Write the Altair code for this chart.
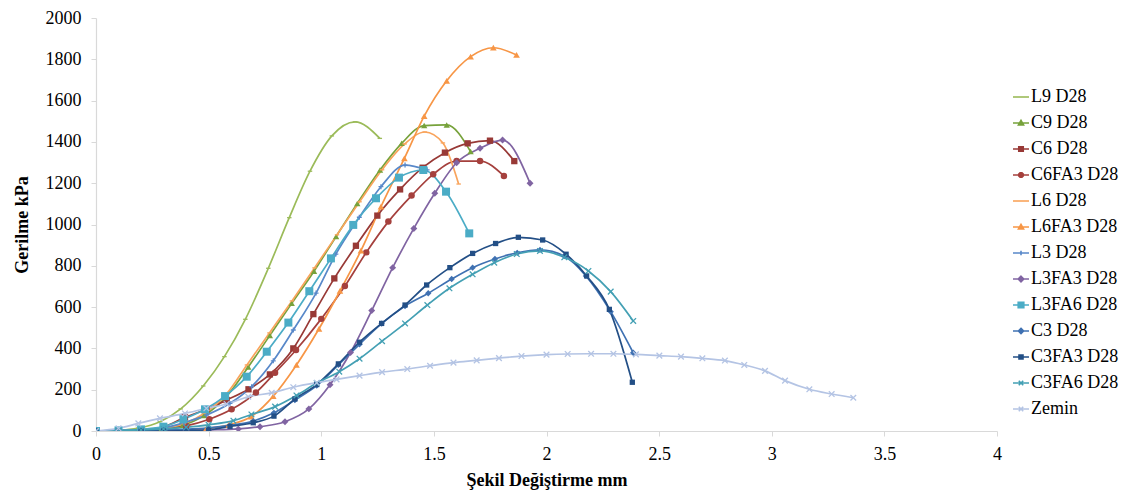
import altair as alt
import pandas as pd

SERIES = ["L9 D28", "C9 D28", "C6 D28", "C6FA3 D28", "L6 D28", "L6FA3 D28", "L3 D28",
          "L3FA3 D28", "L3FA6 D28", "C3 D28", "C3FA3 D28", "C3FA6 D28", "Zemin"]

L9_X = [0, 0.1, 0.188, 0.284, 0.376, 0.476, 0.57, 0.663, 0.765, 0.858, 0.95, 1.047, 1.15, 1.26]
L9_Y = [0, 3, 14, 45, 107, 218, 360, 541, 788, 1033, 1258, 1429, 1497, 1417]

C9_X = [0, 0.1, 0.19, 0.29, 0.385, 0.48, 0.58, 0.676, 0.772, 0.869, 0.968, 1.066, 1.16, 1.261, 1.357, 1.457, 1.557, 1.663]
C9_Y = [0, 1, 4, 10, 28, 75, 168, 310, 463, 618, 774, 942, 1102, 1264, 1393, 1479, 1482, 1353]

C6_X = [0, 0.1, 0.2, 0.3, 0.395, 0.49, 0.58, 0.677, 0.772, 0.876, 0.965, 1.058, 1.154, 1.249, 1.35, 1.45, 1.549, 1.65, 1.749, 1.857]
C6_Y = [0, 2, 5, 20, 66, 105, 150, 202, 274, 400, 566, 739, 897, 1043, 1170, 1275, 1348, 1393, 1406, 1307]

C6FA3_X = [0, 0.1, 0.2, 0.3, 0.4, 0.503, 0.602, 0.71, 0.795, 0.888, 1.0, 1.105, 1.2, 1.298, 1.401, 1.497, 1.601, 1.705, 1.811]
C6FA3_Y = [0, 0, 2, 8, 25, 57, 105, 186, 282, 392, 543, 702, 865, 1014, 1140, 1243, 1307, 1307, 1235]

L6_X = [0, 0.1, 0.2, 0.3, 0.39, 0.48, 0.58, 0.67, 0.77, 0.87, 0.97, 1.07, 1.17, 1.27, 1.37, 1.46, 1.54, 1.61]
L6_Y = [0, 2, 6, 14, 35, 85, 180, 320, 475, 630, 790, 950, 1110, 1265, 1390, 1448, 1395, 1196]

L6FA3_X = [0, 0.1, 0.2, 0.3, 0.4, 0.49, 0.59, 0.69, 0.787, 0.89, 0.99, 1.083, 1.176, 1.265, 1.369, 1.457, 1.557, 1.663, 1.764, 1.867]
L6FA3_Y = [0, 0, 0, 2, 5, 12, 30, 70, 169, 320, 495, 678, 873, 1086, 1320, 1525, 1696, 1813, 1856, 1821]

L3_X = [0, 0.1, 0.2, 0.3, 0.39, 0.49, 0.595, 0.691, 0.787, 0.876, 0.977, 1.065, 1.169, 1.265, 1.372, 1.47]
L3_Y = [0, 2, 6, 15, 40, 77, 134, 215, 340, 489, 668, 857, 1035, 1183, 1288, 1265]

L3FA3_X = [0, 0.1, 0.2, 0.3, 0.4, 0.5, 0.632, 0.728, 0.839, 0.945, 1.039, 1.13, 1.224, 1.317, 1.411, 1.504, 1.601, 1.705, 1.805, 1.927]
L3FA3_Y = [0, 0, 0, 0, 2, 5, 10, 21, 45, 107, 224, 380, 583, 791, 981, 1151, 1299, 1369, 1409, 1200]

L3FA6_X = [0, 0.1, 0.2, 0.299, 0.388, 0.484, 0.573, 0.669, 0.758, 0.854, 0.947, 1.043, 1.142, 1.243, 1.345, 1.453, 1.554, 1.657]
L3FA6_Y = [0, 3, 8, 21, 57, 105, 169, 263, 384, 525, 677, 836, 998, 1127, 1227, 1264, 1159, 957]

C3_X = [0, 0.1, 0.2, 0.3, 0.4, 0.5, 0.595, 0.698, 0.79, 0.883, 0.98, 1.076, 1.17, 1.268, 1.372, 1.475, 1.579, 1.672, 1.771, 1.87, 1.971, 2.079, 2.175, 2.285, 2.385]
C3_Y = [0, 0, 2, 5, 8, 15, 27, 48, 88, 150, 220, 320, 420, 520, 605, 667, 736, 791, 833, 863, 877, 847, 751, 578, 379]

C3FA3_X = [0, 0.1, 0.2, 0.3, 0.4, 0.5, 0.595, 0.698, 0.79, 0.883, 0.98, 1.076, 1.17, 1.268, 1.372, 1.468, 1.571, 1.672, 1.774, 1.875, 1.983, 2.087, 2.178, 2.279, 2.381]
C3FA3_Y = [0, 0, 0, 0, 2, 6, 22, 40, 72, 155, 225, 325, 430, 521, 610, 707, 791, 860, 908, 938, 925, 856, 751, 589, 236]

C3FA6_X = [0, 0.1, 0.2, 0.3, 0.4, 0.5, 0.61, 0.69, 0.795, 0.89, 0.98, 1.08, 1.17, 1.27, 1.372, 1.471, 1.569, 1.672, 1.768, 1.868, 1.971, 2.079, 2.186, 2.285, 2.385]
C3FA6_Y = [0, 2, 5, 10, 18, 30, 50, 80, 118, 172, 232, 287, 350, 435, 521, 610, 691, 759, 815, 857, 872, 841, 775, 675, 533]

ZEMIN_X = [0, 0.1, 0.188, 0.284, 0.395, 0.49, 0.58, 0.676, 0.78, 0.876, 0.98, 1.068, 1.17, 1.27, 1.382, 1.483,
           1.587, 1.69, 1.789, 1.889, 2.0, 2.094, 2.198, 2.297, 2.397, 2.501, 2.597, 2.692, 2.792, 2.878,
           2.97, 3.059, 3.167, 3.266, 3.362]
ZEMIN_Y = [0, 13, 37, 61, 85, 110, 131, 166, 185, 212, 234, 250, 268, 285, 300, 316,
           331, 342, 353, 363, 370, 373, 374, 374, 371, 365, 360, 352, 341, 320,
           291, 244, 202, 179, 161]

X_TICKS = [0, 0.5, 1, 1.5, 2, 2.5, 3, 3.5, 4]
Y_TICKS = [0, 200, 400, 600, 800, 1000, 1200, 1400, 1600, 1800, 2000]

XS = [L9_X, C9_X, C6_X, C6FA3_X, L6_X, L6FA3_X, L3_X, L3FA3_X, L3FA6_X, C3_X, C3FA3_X, C3FA6_X, ZEMIN_X]
YS = [L9_Y, C9_Y, C6_Y, C6FA3_Y, L6_Y, L6FA3_Y, L3_Y, L3FA3_Y, L3FA6_Y, C3_Y, C3FA3_Y, C3FA6_Y, ZEMIN_Y]

COLORS = ["#9BBB59", "#77A23B", "#983936", "#A5403D", "#F9A45C", "#F79646", "#5888C9",
          "#8064A2", "#4BACC6", "#3F71B2", "#234F86", "#44A0B4", "#B4C4E4"]

# marker styles: (shape, size, filled)
X_PATH = "M-1,-1L1,1M-1,1L1,-1"
PLUS_PATH = "M-1,0H1M0,-1V1"
MARKERS = [("stroke", 20, False), ("triangle-up", 40, True), ("square", 40, True), ("circle", 42, True),
           ("stroke", 20, False), ("triangle-up", 44, True), (PLUS_PATH, 24, False), ("diamond", 48, True),
           ("square", 64, True), ("diamond", 40, True), ("square", 28, True), (X_PATH, 32, False),
           (X_PATH, 32, False)]

LEG_LINE = "M-1,0L1,0"
TRI = "M0,-0.32L0.32,0.25L-0.32,0.25Z"
LEGEND_PATHS = [
    LEG_LINE,
    LEG_LINE + TRI,
    LEG_LINE + "M-0.28,-0.28L0.28,-0.28L0.28,0.28L-0.28,0.28Z",
    LEG_LINE + "M-0.12,-0.28L0.12,-0.28L0.28,-0.12L0.28,0.12L0.12,0.28L-0.12,0.28L-0.28,0.12L-0.28,-0.12Z",
    LEG_LINE,
    LEG_LINE + TRI,
    LEG_LINE + "M0,-0.28L0,0.28",
    LEG_LINE + "M0,-0.35L0.35,0L0,0.35L-0.35,0Z",
    LEG_LINE + "M-0.35,-0.35L0.35,-0.35L0.35,0.35L-0.35,0.35Z",
    LEG_LINE + "M0,-0.32L0.32,0L0,0.32L-0.32,0Z",
    LEG_LINE + "M-0.25,-0.25L0.25,-0.25L0.25,0.25L-0.25,0.25Z",
    LEG_LINE + "M-0.28,-0.28L0.28,0.28M-0.28,0.28L0.28,-0.28",
    LEG_LINE + "M-0.28,-0.28L0.28,0.28M-0.28,0.28L0.28,-0.28",
]

rows = []
for name, xs, ys in zip(SERIES, XS, YS):
    for x, y in zip(xs, ys):
        rows.append({"series": name, "x": x, "y": y})
df = pd.DataFrame(rows)

FONT = "Liberation Serif"
# plot colour scale uses the reversed domain so its (disabled) legend is not merged with the real one
plot_color = alt.Scale(domain=SERIES[::-1], range=COLORS[::-1])

x_enc = alt.X("x:Q", scale=alt.Scale(domain=[0, 4], nice=False),
              axis=alt.Axis(title="Şekil Değiştirme mm", values=X_TICKS, format="~g", grid=False,
                            labelFlush=False, labelOverlap=False, tickSize=5, labelPadding=9,
                            titlePadding=8))
y_enc = alt.Y("y:Q", scale=alt.Scale(domain=[0, 2000], nice=False),
              axis=alt.Axis(title="Gerilme kPa", values=Y_TICKS, format="d", grid=False,
                            tickSize=5, labelPadding=10, titlePadding=14))

base = alt.Chart(df).encode(x=x_enc, y=y_enc)

layers = [
    base.mark_line(interpolate="monotone", strokeWidth=1.7, clip=True).encode(
        color=alt.Color("series:N", scale=plot_color, legend=None),
        detail="series:N",
    ),
    # legend-only layer: no rows pass the filter, only the legend is produced
    base.transform_filter(alt.datum.x < 0).mark_point(filled=True, strokeWidth=1.6, opacity=1, clip=True).encode(
        fill=alt.Fill("series:N", scale=alt.Scale(domain=SERIES, range=COLORS)),
        stroke=alt.Stroke("series:N", scale=alt.Scale(domain=SERIES, range=COLORS)),
        shape=alt.Shape("series:N", scale=alt.Scale(domain=SERIES, range=LEGEND_PATHS)),
    ),
]
for name, (shape, size, filled) in zip(SERIES, MARKERS):
    mk = dict(shape=shape, size=size, filled=filled, opacity=1, clip=True)
    if not filled:
        mk["strokeWidth"] = 1.3
    layers.append(
        base.transform_filter(alt.datum.series == name).mark_point(**mk).encode(
            color=alt.Color("series:N", scale=plot_color, legend=None)
        )
    )

chart = alt.layer(*layers).properties(
    width=901, height=413,
    autosize=alt.AutoSizeParams(type="none"),
    padding={"left": 88, "top": 10, "right": 124, "bottom": 60},
).configure_view(stroke=None).configure_axis(
    labelFont=FONT, titleFont=FONT, labelFontSize=18, titleFontSize=18,
    labelColor="#000000", titleColor="#000000", titleFontWeight="bold",
    domainColor="#D9D9D9", tickColor="#D9D9D9", domainWidth=1.2,
).configure_legend(
    title=None, orient="none", legendX=916, legendY=70, symbolSize=256,
    labelFont=FONT, labelFontSize=18, labelColor="#000000", rowPadding=8,
    labelOffset=1, symbolStrokeWidth=1.6, labelLimit=200, symbolOpacity=1,
)

chart.save("out.html", embed_options={"renderer": "svg", "actions": False})
